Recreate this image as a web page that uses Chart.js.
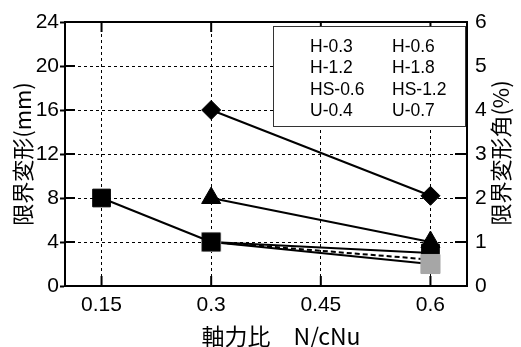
<!DOCTYPE html>
<html><head><meta charset="utf-8">
<script src="https://cdn.jsdelivr.net/npm/chart.js@4.4.1/dist/chart.umd.min.js"></script>
<style>html,body{margin:0;padding:0;background:#fff;}canvas{display:block;}</style>
</head><body>
<canvas id="c" width="521" height="347"></canvas>
<script>
// ---- data ----
const axialRatios = [0.15, 0.3, 0.6];
const xTickValues = [0.15, 0.3, 0.45, 0.6];
const xTickLabels = ['0.15', '0.3', '0.45', '0.6'];
const legendLabels = ['H-0.3', 'H-0.6', 'H-1.2', 'H-1.8', 'HS-0.6', 'HS-1.2', 'U-0.4', 'U-0.7'];
const diamondDeform  = [null, 16, 8.2];
const triangleDeform = [null, 8, 4];
const squareDeformA  = [8, 4, null];
const graySquareDeform = [null, 4, 2.0];
const dashedDeform   = [null, 4, 2.4];
const squareDeformB  = [null, 4, 3.0];
const leftTitle = '限界変形(mm)';
const rightTitle = '限界変形角(%)';
const xTitle = '軸力比　N/cNu';

const CJK = "'Noto Sans CJK JP', 'Noto Sans', sans-serif";
const LAT = "'Liberation Sans', Arial, sans-serif";
const GRAY = '#a6a6a6';

function pts(arr) {
  return axialRatios.map((x, i) => ({ x: x, y: arr[i] })).filter(p => p.y !== null);
}
function ds(label, arr, style, radius, color, dash) {
  return {
    label: label, data: pts(arr),
    borderColor: '#000', borderWidth: 2, borderDash: dash || [],
    pointStyle: style, pointRadius: radius, pointHoverRadius: radius,
    pointBackgroundColor: color, pointBorderColor: color, pointBorderWidth: 1,
    fill: false, tension: 0
  };
}

const frameAndTicks = {
  id: 'frameAndTicks',
  beforeDatasetsDraw(chart) {
    const { ctx, chartArea: a, scales } = chart;
    ctx.save();
    ctx.strokeStyle = '#000';
    ctx.lineWidth = 2;
    ctx.setLineDash([]);
    ctx.strokeRect(a.left, a.top, a.right - a.left, a.bottom - a.top);
    ctx.beginPath();
    scales.y.ticks.forEach(t => {
      const py = scales.y.getPixelForValue(t.value);
      ctx.moveTo(a.left, py); ctx.lineTo(a.left + 10, py);
      ctx.moveTo(a.right, py); ctx.lineTo(a.right - 12, py);
    });
    xTickValues.forEach(v => {
      const px = scales.x.getPixelForValue(v);
      ctx.moveTo(px, a.bottom); ctx.lineTo(px, a.bottom - 10);
      ctx.moveTo(px, a.top); ctx.lineTo(px, a.top + 10);
    });
    ctx.stroke();
    ctx.restore();
  },
  afterDatasetsDraw(chart) {
    const { ctx } = chart;
    ctx.save();
    // legend box
    const bx = 273, by = 26, bw = 192, bh = 100;
    ctx.fillStyle = '#fff';
    ctx.fillRect(bx, by, bw, bh);
    ctx.strokeStyle = '#333';
    ctx.lineWidth = 1;
    ctx.strokeRect(bx + 0.5, by + 0.5, bw, bh);
    ctx.fillStyle = '#000';
    ctx.font = '17.5px ' + LAT;
    ctx.textBaseline = 'middle';
    ctx.textAlign = 'left';
    legendLabels.forEach((l, i) => {
      const col = i % 2, row = Math.floor(i / 2);
      ctx.fillText(l, col === 0 ? 310 : 392, 47 + row * 21.5);
    });
    // x title
    ctx.font = '23px ' + CJK;
    ctx.textAlign = 'center';
    ctx.fillText(xTitle, 281, 336);
    // right title
    ctx.translate(501, 153);
    ctx.rotate(-Math.PI / 2);
    ctx.font = '22px ' + CJK;
    ctx.fillText(rightTitle, 0, 0);
    ctx.restore();
  }
};

new Chart(document.getElementById('c'), {
  type: 'line',
  data: {
    datasets: [
      ds('diamond', diamondDeform, 'rectRot', 9.5, '#000'),
      ds('triangle', triangleDeform, 'triangle', 11, '#000'),
      ds('squareA', squareDeformA, 'rect', 12.5, '#000'),
      ds('graySquare', graySquareDeform, 'rect', 13.5, GRAY),
      ds('dashed', dashedDeform, 'circle', 0, '#000', [5, 3]),
      ds('squareB', squareDeformB, 'rect', 12.5, '#000')
    ]
  },
  options: {
    responsive: false,
    animation: false,
    events: [],
    layout: { padding: { top: 22, left: 0, right: 0, bottom: 0 } },
    plugins: { legend: { display: false }, tooltip: { enabled: false } },
    scales: {
      x: {
        type: 'linear', min: 0.1, max: 0.65,
        afterBuildTicks: s => { s.ticks = xTickValues.map(v => ({ value: v })); },
        afterFit: s => { s.height = 61; },
        ticks: {
          autoSkip: false, maxRotation: 0, padding: 7, color: '#000',
          font: { family: LAT, size: 21 },
          callback: (v) => xTickLabels[xTickValues.indexOf(v)]
        },
        grid: { color: '#000', lineWidth: 1, drawTicks: false },
        border: { display: true, color: '#000', width: 2, dash: [3, 3] }
      },
      y: {
        type: 'linear', position: 'left', min: 0, max: 24,
        afterFit: s => { s.width = 65; },
        ticks: { stepSize: 4, padding: 1, color: '#000', font: { family: LAT, size: 21 } },
        grid: { color: '#000', lineWidth: 1, tickLength: 5, tickColor: '#000', tickWidth: 2, tickBorderDash: [] },
        border: { display: true, color: '#000', width: 2, dash: [3, 3] },
        title: { display: true, text: leftTitle, color: '#000', font: { family: CJK, size: 22 }, padding: { top: 9, bottom: 0 } }
      },
      y2: {
        type: 'linear', position: 'right', min: 0, max: 6,
        afterFit: s => { s.width = 54; },
        ticks: { stepSize: 1, padding: 8, color: '#000', font: { family: LAT, size: 21 } },
        grid: { drawOnChartArea: false, drawTicks: false },
        border: { display: true, color: '#000', width: 2 }
      }
    }
  },
  plugins: [frameAndTicks]
});
</script>
</body></html>
